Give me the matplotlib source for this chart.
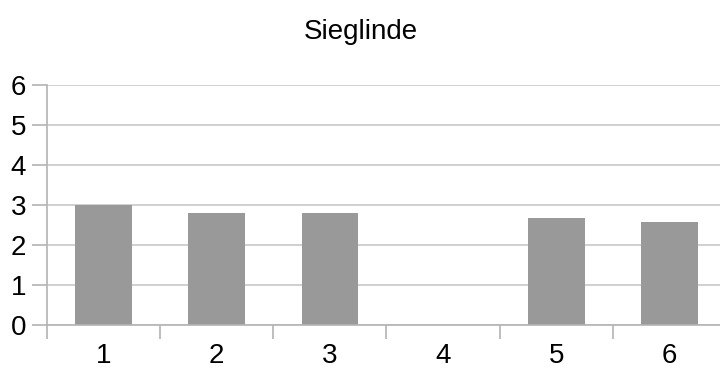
import matplotlib
matplotlib.use('Agg')
import matplotlib.pyplot as plt
import numpy as np

categories = ['1', '2', '3', '4', '5', '6']
values = [3.0, 2.8, 2.8, 0.0, 2.67, 2.57]
y_ticks = [0, 1, 2, 3, 4, 5, 6]

plt.rcParams['font.family'] = ['Liberation Sans', 'DejaVu Sans']

fig = plt.figure(figsize=(7.2, 3.72), dpi=100)
# plot area runs a little past the right edge, like the original
ax = fig.add_axes([47 / 720, 47 / 372, 679 / 720, 240 / 372])

x = np.arange(len(categories))
ax.bar(x, values, width=0.5, color='#999999', zorder=2)

ax.set_xlim(-0.5, len(categories) - 0.5)
ax.set_ylim(0, 6)
ax.set_yticks(y_ticks)
ax.set_xticks(np.arange(len(categories) + 1) - 0.5, minor=False)
ax.set_xticklabels([])
ax.set_xticks(x, minor=True)
ax.set_xticklabels(categories, minor=True)

ax.yaxis.grid(True, color='#c8c8c8', linewidth=1.2, zorder=0)
ax.set_axisbelow(True)

for side in ['top', 'right']:
    ax.spines[side].set_visible(False)
for side in ['left', 'bottom']:
    ax.spines[side].set_color('#b3b3b3')
    ax.spines[side].set_linewidth(1.2)

ax.tick_params(axis='y', which='major', length=11, width=1.2, color='#b3b3b3',
               labelsize=20, pad=4)
ax.tick_params(axis='x', which='major', length=10, width=1.2, color='#b3b3b3',
               direction='out')
ax.tick_params(axis='x', which='minor', length=0, labelsize=20, pad=13)

fig.text(361 / 720, 1 - 32 / 372, 'Sieglinde', ha='center', va='center', fontsize=20)

fig.savefig('out.png', dpi=100)
